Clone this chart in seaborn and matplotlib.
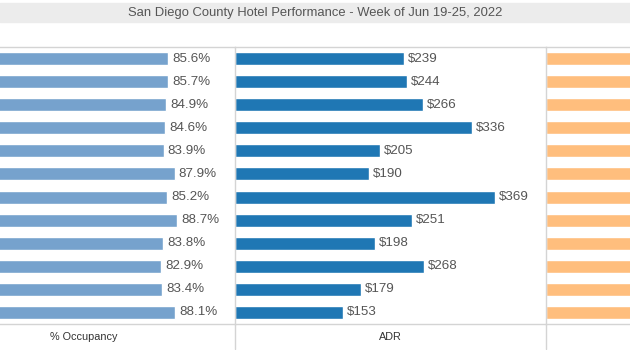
import numpy as np
import pandas as pd
import matplotlib
matplotlib.use('Agg')
import matplotlib.pyplot as plt
import seaborn as sns

#==============================================================================
# Data (row labels are cropped out of the reference)
#==============================================================================
markets = ['Market 1', 'Market 2', 'Market 3', 'Market 4', 'Market 5', 'Market 6',
           'Market 7', 'Market 8', 'Market 9', 'Market 10', 'Market 11', 'Market 12']
occupancy = [85.6, 85.7, 84.9, 84.6, 83.9, 87.9, 85.2, 88.7, 83.8, 82.9, 83.4, 88.1]
adr = [239, 244, 266, 336, 205, 190, 369, 251, 198, 268, 179, 153]
revpar = [205, 209, 226, 284, 172, 167, 314, 223, 166, 222, 149, 135]

df = pd.DataFrame({'market': markets, 'occ': occupancy, 'adr': adr, 'revpar': revpar})

#==============================================================================
# Style
#==============================================================================
sns.set_style('white')
plt.rcParams['font.family'] = ['Liberation Sans', 'DejaVu Sans']

W, H = 630, 350
fig = plt.figure(figsize=(6.3, 3.5), dpi=100)

# title banner
fig.patches.append(plt.Rectangle((0, 1 - 22 / H), 1, 19 / H, transform=fig.transFigure,
                                 color='#ececec', zorder=0))
fig.text(315 / W, 1 - 13 / H, 'San Diego County Hotel Performance - Week of Jun 19-25, 2022',
         ha='center', va='center', fontsize=9.4, color='#555555')

bottom, top = 1 - 324 / H, 1 - 47 / H
grid = '#d4d4d4'

def panel(x0, x1, col, color, xmax, label, fmt):
    ax = fig.add_axes([x0 / W, bottom, (x1 - x0) / W, top - bottom])
    sns.barplot(data=df, x=col, y='market', color=color, width=0.56,
                saturation=1, ax=ax, orient='h')
    ax.set_xlim(0, xmax)
    ax.set_xticks([])
    ax.set_yticks([])
    ax.set_ylabel('')
    ax.set_xlabel(label, fontsize=7.8, color='#333333', labelpad=6)
    for s in ['left', 'right']:
        ax.spines[s].set_visible(False)
    for s in ['top', 'bottom']:
        ax.spines[s].set_color(grid)
        ax.spines[s].set_linewidth(1)
    if fmt is not None:
        ax.bar_label(ax.containers[0], labels=[fmt(v) for v in df[col]],
                     padding=3, fontsize=9.6, color='#555555')
    return ax

ax1 = panel(-68, 235, 'occ', '#76a2cd', 109.8, '% Occupancy', lambda v: '{:.1f}%'.format(v))
ax2 = panel(235, 546, 'adr', '#1f77b4', 441, 'ADR', lambda v: '${:.0f}'.format(v))
ax3 = panel(546, 856, 'revpar', '#ffbe7d', 441, '', None)

# panel dividers running down into the label strip
for ax in [ax2, ax3]:
    ax.axvline(0, ymin=-0.09, ymax=1, color=grid, lw=1, clip_on=False, zorder=5)

fig.savefig('out.png', dpi=100)
